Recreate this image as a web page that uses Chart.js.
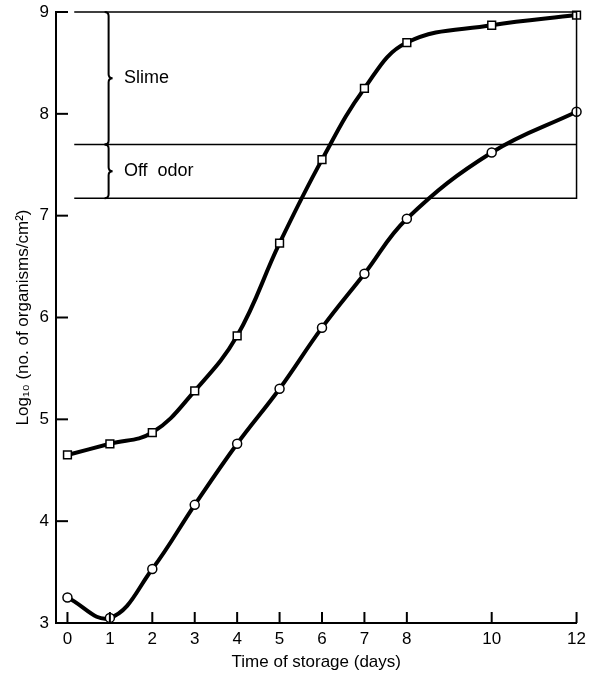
<!DOCTYPE html>
<html lang="en">
<head>
<meta charset="UTF-8">
<title>Log10 organisms vs time of storage</title>
<script src="https://cdn.jsdelivr.net/npm/chart.js"></script>
<style>
  html, body { margin: 0; padding: 0; background: #fff; }
  #wrap { width: 592px; height: 675px; }
</style>
</head>
<body>
<div id="wrap"><canvas id="chart" width="592" height="675"></canvas></div>
<script>
const days = [0, 1, 2, 3, 4, 5, 6, 7, 8, 10, 12]
const squares = [4.65, 4.76, 4.87, 5.28, 5.82, 6.73, 7.55, 8.25, 8.70, 8.87, 8.97]
const circles = [3.25, 3.05, 3.53, 4.16, 4.76, 5.30, 5.90, 6.43, 6.97, 7.62, 8.02]
const xTicks = [0, 1, 2, 3, 4, 5, 6, 7, 8, 10, 12]
const yTicks = [3, 4, 5, 6, 7, 8, 9]
const slimeLevel = 7.7
const odorLevel = 7.17
const topLevel = 9
const boxStart = 0.16
const zones = [
  { label: "Slime", from: topLevel, to: slimeLevel },
  { label: "Off  odor", from: slimeLevel, to: odorLevel },
]

const FONT = "'Liberation Sans', Arial, Helvetica, sans-serif"

const pts = (ys) => days.map((d, i) => ({ x: d, y: ys[i] }))

// inward tick marks, braces and zone labels
const extras = {
  id: "extras",
  afterDatasetsDraw(chart) {
    const { ctx, scales: { x, y }, chartArea } = chart
    ctx.save()
    ctx.strokeStyle = "#000"
    ctx.lineWidth = 2
    for (const v of yTicks) {
      const py = y.getPixelForValue(v)
      ctx.beginPath()
      ctx.moveTo(chartArea.left, py)
      ctx.lineTo(chartArea.left + 12, py)
      ctx.stroke()
    }
    for (const v of xTicks) {
      const px = x.getPixelForValue(v)
      ctx.beginPath()
      ctx.moveTo(px, chartArea.bottom)
      ctx.lineTo(px, chartArea.bottom - 11)
      ctx.stroke()
    }
    // braces
    const bx = x.getPixelForValue(0.97)
    ctx.lineWidth = 2
    ctx.font = "18px " + FONT
    ctx.fillStyle = "#000"
    ctx.textBaseline = "middle"
    for (const z of zones) {
      const y0 = y.getPixelForValue(z.from)
      const y1 = y.getPixelForValue(z.to)
      const ym = (y0 + y1) / 2
      const r = 4
      ctx.beginPath()
      ctx.moveTo(bx - r, y0)
      ctx.quadraticCurveTo(bx, y0, bx, y0 + r)
      ctx.lineTo(bx, ym - r)
      ctx.quadraticCurveTo(bx, ym, bx + r, ym)
      ctx.quadraticCurveTo(bx, ym, bx, ym + r)
      ctx.lineTo(bx, y1 - r)
      ctx.quadraticCurveTo(bx, y1, bx - r, y1)
      ctx.stroke()
      ctx.fillText(z.label, x.getPixelForValue(1.33), ym)
    }
    ctx.restore()
  },
}

new Chart(document.getElementById("chart"), {
  type: "line",
  data: {
    datasets: [
      {
        data: [
          { x: boxStart, y: topLevel },
          { x: 12, y: topLevel },
          { x: 12, y: odorLevel },
          { x: boxStart, y: odorLevel },
        ],
        borderColor: "#000",
        borderWidth: 1.5,
        pointRadius: 0,
        tension: 0,
        clip: false,
      },
      {
        data: [
          { x: boxStart, y: slimeLevel },
          { x: 12, y: slimeLevel },
        ],
        borderColor: "#000",
        borderWidth: 1.5,
        pointRadius: 0,
        tension: 0,
        clip: false,
      },
      {
        data: pts(squares),
        borderColor: "#000",
        borderWidth: 4,
        tension: 0.4,
        pointStyle: "rect",
        pointRadius: 5.5,
        pointBorderWidth: 1.5,
        pointBackgroundColor: "#fff",
        pointBorderColor: "#000",
        clip: false,
      },
      {
        data: pts(circles),
        borderColor: "#000",
        borderWidth: 4,
        tension: 0.4,
        pointStyle: "circle",
        pointRadius: 4.5,
        pointBorderWidth: 1.5,
        pointBackgroundColor: "#fff",
        pointBorderColor: "#000",
        clip: false,
      },
    ],
  },
  options: {
    responsive: false,
    animation: false,
    layout: { padding: { top: 12, right: 11, left: 0, bottom: 0 } },
    plugins: { legend: { display: false }, tooltip: { enabled: false } },
    scales: {
      x: {
        type: "linear",
        min: -0.27,
        max: 12,
        afterBuildTicks: (s) => { s.ticks = xTicks.map((v) => ({ value: v })) },
        afterFit: (s) => { s.height = 52 },
        grid: { display: false, drawTicks: false },
        border: { display: true, color: "#000", width: 2 },
        ticks: { color: "#000", font: { family: FONT, size: 17 }, padding: 6, maxRotation: 0, autoSkip: false },
        title: {
          display: true,
          text: "Time of storage (days)",
          color: "#000",
          font: { family: FONT, size: 17 },
          padding: { top: 0, bottom: 2 },
        },
      },
      y: {
        min: 3,
        max: 9,
        afterBuildTicks: (s) => { s.ticks = yTicks.map((v) => ({ value: v })) },
        afterFit: (s) => { s.width = 56; s.paddingTop = 0; s.paddingBottom = 0 },
        grid: { display: false, drawTicks: false },
        border: { display: true, color: "#000", width: 2 },
        ticks: { color: "#000", font: { family: FONT, size: 17 }, padding: 7 },
        title: {
          display: true,
          text: "Log\u2081\u2080 (no. of organisms/cm\u00b2)",
          color: "#000",
          font: { family: FONT, size: 17 },
          padding: { top: 13, bottom: 0 },
        },
      },
    },
  },
  plugins: [extras],
})
</script>
</body>
</html>
